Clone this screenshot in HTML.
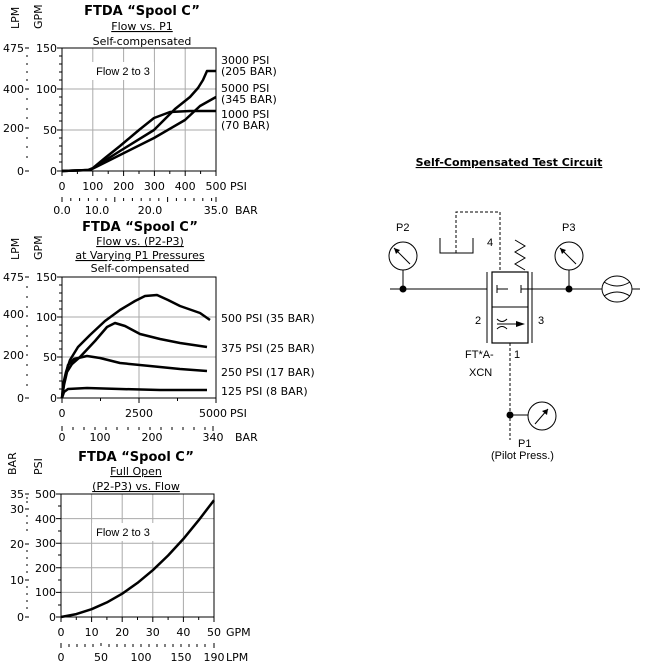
<!DOCTYPE html>
<html><head><meta charset="utf-8"><style>
body{margin:0;background:#fff}
svg text{font-family:"DejaVu Sans","Liberation Sans",sans-serif;font-size:11px;fill:#000}
.t{font-weight:bold;font-size:13px}
.a{font-family:"Liberation Sans",sans-serif;font-size:11px}
</style></head><body>
<svg width="653" height="661" xmlns="http://www.w3.org/2000/svg">
<g stroke="#aaa" stroke-width="1" fill="none">
<path d="M92.8 48V171M123.6 48V171M154.4 48V171M185.2 48V171M62 89H216M62 130H216"/>
<path d="M139 277V398M62 317H216M62 357H216"/>
<path d="M91.6 494V617M122.2 494V617M152.8 494V617M183.4 494V617M61 518.6H214M61 543.2H214M61 567.8H214M61 592.4H214"/>
</g>
<g stroke="#000" fill="none" stroke-width="1">
<rect x="62" y="48" width="154" height="123"/>
<rect x="62" y="277" width="154" height="121"/>
<rect x="61" y="494" width="153" height="123"/>
</g>
<g stroke="#000" stroke-width="1">
<path d="M62 171v5M77.4 171v3M92.8 171v5M108.2 171v3M123.6 171v5M139 171v3M154.4 171v5M169.8 171v3M185.2 171v5M200.6 171v3M216 171v5"/>
<path d="M62 197v5M70.8 198v3M79.6 198v3M88.4 198v3M97.2 198v3M106 198v3M114.8 197v5M123.6 198v3M132.4 198v3M141.2 198v3M150 198v3M158.8 198v3M167.6 197v5M176.4 198v3M185.2 198v3M194 198v3M202.8 198v3M211.6 198v3M216 197v5"/>
<path d="M57 48h5M59 56h3M59 64h3M59 72h3M59 80h3M57 89h5M59 97h3M59 105h3M59 113h3M59 121h3M57 130h5M59 138h3M59 146h3M59 154h3M59 162h3M57 171h5"/>
<path d="M25 48h4M26 56h2M26 64h2M26 72h2M26 80h2M25 89h4M26 99h2M26 109h2M26 118h2M25 128h4M26 138h2M26 147h2M26 157h2M25 171h4"/>
<path d="M62 398v5M100.5 398v3M139 398v5M177.5 398v3M216 398v5"/>
<path d="M62 426v5M73 427v3M84 427v3M95 427v3M106 427v3M117 427v3M128 427v3M139 427v3M150 427v3M161 427v3M172 427v3M183 427v3M194 427v3M205 427v3M213 426v5"/>
<path d="M57 277h5M59 285h3M59 293h3M59 301h3M59 309h3M57 317h5M59 325h3M59 333h3M59 341h3M59 349h3M57 357h5M59 365h3M59 373h3M59 381h3M59 389h3M57 398h5"/>
<path d="M25 277h4M26 287h2M26 297h2M26 307h2M26 316h2M26 326h2M26 336h2M26 346h2M26 355h2M26 365h2M26 375h2M26 385h2M25 398h4"/>
<path d="M61 617v5M76.3 617v3M91.6 617v5M106.9 617v3M122.2 617v5M137.5 617v3M152.8 617v5M168.1 617v3M183.4 617v5M198.7 617v3M214 617v5"/>
<path d="M61 643v5M69 644v3M77 644v3M85 644v3M93 644v3M101 643v3M109 644v3M117 644v3M125 644v3M133 644v3M141 644v3M149 644v3M157 644v3M165 644v3M173 644v3M181 644v3M189 644v3M197 644v3M205 644v3M214 643v5"/>
<path d="M56 494h5M58 506h3M56 518.6h5M58 531h3M56 543.2h5M58 555h3M56 567.8h5M58 580h3M56 592.4h5M58 605h3M56 617h5"/>
<path d="M25 494h4M26 498h2M26 502h2M25 509h4M26 516h2M26 523h2M26 530h2M25 544h4M26 551h2M26 558h2M26 565h2M26 572h2M25 580h4M26 587h2M26 594h2M26 601h2M26 608h2M25 617h4"/>
</g>
<g stroke="#000" stroke-width="2.5" fill="none" stroke-linejoin="round">
<path d="M62 171L88 170L93 168L105 158L120 146L139 130L154 118L170 112L190 111L216 111"/>
<path d="M62 171L90 170L120 151L154 130L175 109L190 97L198 88L203 80L207 71L216 71"/>
<path d="M62 171L90 170L120 155L154 138L185 120L200 106L216 97"/>
<path d="M62 398L63 385L66 372L70 360L78 347L90 335L105 321L120 310L135 301L145 296L157 295L168 300L180 306L200 313L210 320"/>
<path d="M62 398L64 385L67 372L72 364L80 357L95 341L107 327L115 323L125 326L140 334L160 339L180 343L207 347"/>
<path d="M62 398L64 383L68 365L74 359L87 356L100 358L120 363L150 366L180 369L207 371"/>
<path d="M62 398L64 392L68 389L87 388L120 389L160 390L207 390"/>
<path d="M61 617L76.3 614.1L91.6 609.2L106.9 602.4L122.2 593.7L137.5 582.9L152.8 570.2L168.1 555.5L183.4 538.9L198.7 520.2L214 500.2"/>
</g>
<rect x="92" y="62" width="62" height="18" fill="#fff"/>
<text x="123" y="75" text-anchor="middle" class="a">Flow 2 to 3</text>
<rect x="92" y="523" width="62" height="18" fill="#fff"/>
<text x="123" y="536" text-anchor="middle" class="a">Flow 2 to 3</text>
<text x="142" y="15" text-anchor="middle" class="t">FTDA “Spool C”</text>
<text x="142" y="30" text-anchor="middle" text-decoration="underline">Flow vs. P1</text>
<text x="142" y="45" text-anchor="middle">Self-compensated</text>
<text transform="translate(19,29) rotate(-90)">LPM</text>
<text transform="translate(42,29) rotate(-90)">GPM</text>
<g text-anchor="end"><text x="57" y="52">150</text><text x="57" y="93">100</text><text x="57" y="134">50</text><text x="57" y="175">0</text>
<text x="24" y="52">475</text><text x="24" y="93">400</text><text x="24" y="132">200</text><text x="24" y="175">0</text></g>
<g text-anchor="middle"><text x="62" y="190">0</text><text x="92.8" y="190">100</text><text x="123.6" y="190">200</text><text x="154.4" y="190">300</text><text x="185.2" y="190">400</text><text x="216" y="190">500</text>
<text x="62" y="214">0.0</text><text x="97" y="214">10.0</text><text x="150" y="214">20.0</text><text x="216" y="214">35.0</text></g>
<text x="230" y="190">PSI</text><text x="235" y="214">BAR</text>
<text x="221" y="64">3000 PSI</text><text x="221" y="75">(205 BAR)</text><text x="221" y="92">5000 PSI</text><text x="221" y="103">(345 BAR)</text><text x="221" y="118">1000 PSI</text><text x="221" y="129">(70 BAR)</text>
<text x="140" y="231" text-anchor="middle" class="t">FTDA “Spool C”</text>
<text x="140" y="245" text-anchor="middle" text-decoration="underline">Flow vs. (P2-P3)</text>
<text x="140" y="259" text-anchor="middle" text-decoration="underline">at Varying P1 Pressures</text>
<text x="140" y="272" text-anchor="middle">Self-compensated</text>
<text transform="translate(19,260) rotate(-90)">LPM</text>
<text transform="translate(42,260) rotate(-90)">GPM</text>
<g text-anchor="end"><text x="57" y="281">150</text><text x="57" y="321">100</text><text x="57" y="361">50</text><text x="57" y="402">0</text>
<text x="24" y="281">475</text><text x="24" y="318">400</text><text x="24" y="359">200</text><text x="24" y="402">0</text></g>
<g text-anchor="middle"><text x="62" y="417">0</text><text x="139" y="417">2500</text><text x="213" y="417">5000</text>
<text x="62" y="441">0</text><text x="100" y="441">100</text><text x="152" y="441">200</text><text x="213" y="441">340</text></g>
<text x="230" y="417">PSI</text><text x="235" y="441">BAR</text>
<text x="221" y="322">500 PSI (35 BAR)</text><text x="221" y="352">375 PSI (25 BAR)</text><text x="221" y="376">250 PSI (17 BAR)</text><text x="221" y="395">125 PSI (8 BAR)</text>
<text x="136" y="461" text-anchor="middle" class="t">FTDA “Spool C”</text>
<text x="136" y="475" text-anchor="middle" text-decoration="underline">Full Open</text>
<text x="136" y="490" text-anchor="middle" text-decoration="underline">(P2-P3) vs. Flow</text>
<text transform="translate(16,475) rotate(-90)">BAR</text>
<text transform="translate(42,475) rotate(-90)">PSI</text>
<g text-anchor="end"><text x="56" y="498">500</text><text x="56" y="523">400</text><text x="56" y="547">300</text><text x="56" y="572">200</text><text x="56" y="596">100</text><text x="56" y="621">0</text>
<text x="24" y="498">35</text><text x="24" y="513">30</text><text x="24" y="548">20</text><text x="24" y="584">10</text><text x="24" y="621">0</text></g>
<g text-anchor="middle"><text x="61" y="636">0</text><text x="91.6" y="636">10</text><text x="122.2" y="636">20</text><text x="152.8" y="636">30</text><text x="183.4" y="636">40</text><text x="214" y="636">50</text>
<text x="61" y="661">0</text><text x="101" y="661">50</text><text x="141" y="661">100</text><text x="181" y="661">150</text><text x="214" y="661">190</text></g>
<text x="226" y="636">GPM</text><text x="226" y="661">LPM</text>
<text x="509" y="166" text-anchor="middle" font-weight="bold" font-size="12" text-decoration="underline">Self-Compensated Test Circuit</text>
<g stroke="#000" fill="none" stroke-width="1">
<path d="M390 289H487M532 289H602M632 289H640"/>
<path d="M497 289h11M497 285v8M521 289h11M521 285v8"/>
<rect x="492" y="272" width="36" height="71" stroke-width="1.2"/>
<path d="M492 307H528"/>
<path d="M487 272V343M532 272V343"/>
<path d="M440 238V253H473V238" />
<path d="M456 253V212H500V272M510 343V440" stroke-dasharray="3,2"/>
<path d="M515 240L525 246L515 252L525 258L515 264L525 270"/>
<circle cx="403" cy="256" r="14"/><path d="M403 270V289M394 248L410 264"/>
<circle cx="569" cy="256" r="14"/><path d="M569 270V289M560 248L576 264"/>
<ellipse cx="617" cy="289" rx="15" ry="13"/><path d="M604 282Q617 290 630 282M604 296Q617 288 630 296"/>
<circle cx="542" cy="416" r="14"/><path d="M510 415H528M535 424L548 409"/>
<path d="M497 319Q502 324 507 319M497 329Q502 324 507 329M497 324H516"/>
</g>
<path d="M516 321L525 324L516 327Z" fill="#000"/>
<path d="M394 248l6 2-4 4z M560 248l6 2-4 4z M548 409l-1 6-5-4z" fill="#000"/>
<circle cx="403" cy="289" r="3.5" fill="#000"/><circle cx="569" cy="289" r="3.5" fill="#000"/><circle cx="510" cy="415" r="3.5" fill="#000"/>
<text x="396" y="231" class="a" font-size="12">P2</text><text x="562" y="231" class="a" font-size="12">P3</text>
<text x="487" y="246" class="a" font-size="12">4</text><text x="475" y="324" class="a" font-size="12">2</text><text x="538" y="324" class="a" font-size="12">3</text>
<text x="465" y="358" class="a" font-size="12">FT*A-</text><text x="469" y="376" class="a" font-size="12">XCN</text><text x="514" y="358" class="a" font-size="12">1</text>
<text x="518" y="447" class="a" font-size="12">P1</text><text x="491" y="459" class="a" font-size="12">(Pilot Press.)</text>
</svg>
</body></html>
